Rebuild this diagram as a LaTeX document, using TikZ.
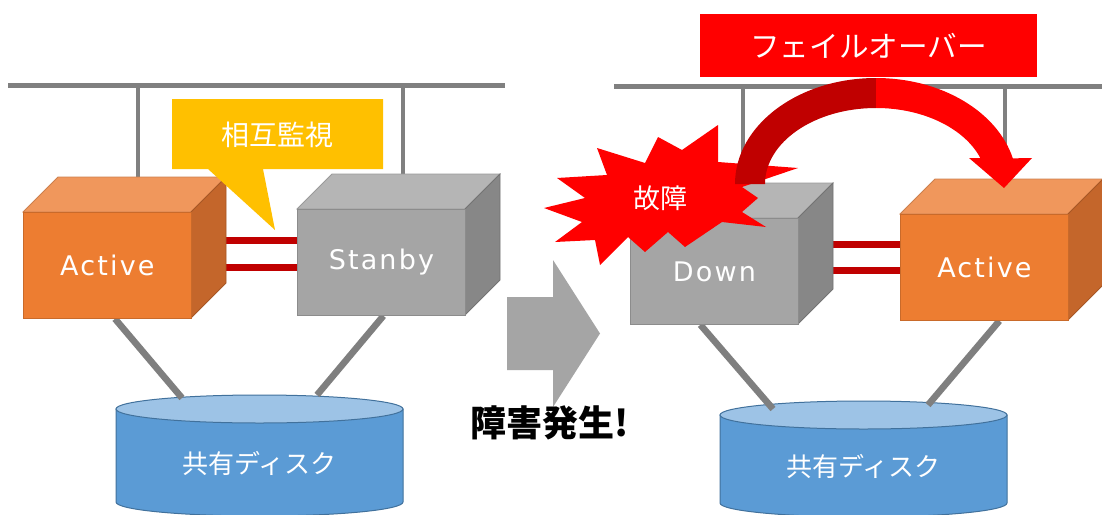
\documentclass[tikz,border=0pt]{standalone}
\usepackage{fontspec}
\usetikzlibrary{calc}
\newfontfamily\jpfont{Noto Sans CJK JP}
\newfontfamily\enfont[LetterSpace=8]{DejaVu Sans}

\definecolor{busgray}{HTML}{808080}
\definecolor{wiregray}{HTML}{7F7F7F}
\definecolor{hbred}{HTML}{C00000}
\definecolor{orfront}{HTML}{ED7D31}
\definecolor{ortop}{HTML}{F0975C}
\definecolor{orside}{HTML}{C4662B}
\definecolor{grfront}{HTML}{A5A5A5}
\definecolor{grtop}{HTML}{B5B5B5}
\definecolor{grside}{HTML}{878787}
\definecolor{diskbody}{HTML}{5B9BD5}
\definecolor{disktop}{HTML}{9DC3E6}
\definecolor{diskedge}{HTML}{41719C}
\definecolor{calloutyellow}{HTML}{FFC000}
\definecolor{alertred}{HTML}{FF0000}
\definecolor{arcdark}{HTML}{C00000}
\definecolor{midgray}{HTML}{A5A5A5}

% server box: front face is a named node, top and side faces are drawn around it
% #1 name, #2 x, #3 y (top-left of front face), #4 front, #5 top, #6 side, #7 label
\newcommand\serverbox[7]{%
  \filldraw[fill=#5, draw=#5!85!black, line width=0.4pt]
    (#2,#3) -- ++(35,-35) -- ++(168,0) -- ++(-35,35) -- cycle;
  \filldraw[fill=#6, draw=#6!85!black, line width=0.4pt]
    ($(#2,#3)+(168,0)$) -- ++(35,-35) -- ++(0,106) -- ++(-35,35) -- cycle;
  \node[boxfront, fill=#4, draw=#4!85!black, anchor=north west] (#1) at (#2,#3) {#7};
}

% shared disk: body and top ellipse, label node in the middle
% #1 name, #2 centre x, #3 top-ellipse centre y, #4 bottom-ellipse centre y
\newcommand\shareddisk[4]{%
  \filldraw[fill=diskbody, draw=diskedge, line width=0.5pt]
    ($(#2,#3)+(-143.5,0)$) -- ($(#2,#4)+(-143.5,0)$)
    arc[start angle=180, end angle=0, x radius=143.5, y radius=14]
    -- ($(#2,#3)+(143.5,0)$) -- cycle;
  \filldraw[fill=disktop, draw=diskedge, line width=0.5pt]
    (#2,#3) ellipse[x radius=143.5, y radius=14];
  \node[disklabel] (#1) at ($(#2,#3)!0.59!(#2,#4)$) {共有ディスク};
}

\begin{document}
\begin{tikzpicture}[x=0.5pt, y=-0.5pt,
  bus/.style={draw=busgray, line width=2.5pt},
  tap/.style={draw=busgray, line width=2pt},
  wire/.style={draw=wiregray, line width=3.3pt},
  heartbeat/.style={draw=hbred, line width=3.5pt},
  boxfront/.style={minimum width=84pt, minimum height=53pt, inner sep=0pt,
    line width=0.4pt, text=white, font=\enfont\fontsize{13.5pt}{16pt}\selectfont},
  disklabel/.style={text=white, inner sep=0pt, font=\jpfont\fontsize{13pt}{15pt}\selectfont},
]
\useasboundingbox (0,0) rectangle (1102,514);
\fill[white] (0,0) rectangle (1102,514);

% ---------------- networks ----------------
\coordinate (busLa) at (8,85);
\coordinate (busLb) at (505,85);
\coordinate (busRa) at (614,86);
\coordinate (busRb) at (1102,86);
\coordinate (tapL1) at (138,85);
\coordinate (tapL2) at (403,85);
\coordinate (tapR1) at (743,86);
\coordinate (tapR2) at (1005,86);
\draw[bus] (busLa) -- (busLb);
\draw[bus] (busRa) -- (busRb);

% ---------------- disks ----------------
\shareddisk{diskL}{259.5}{409}{502}
\shareddisk{diskR}{863.5}{415}{503}
\coordinate (dL1) at (182,398);
\coordinate (dL2) at (317,395);
\coordinate (dR1) at (773,409);
\coordinate (dR2) at (928,405);

% ---------------- boxes (positions fixed first, drawn later) ----------------
\begin{scope}[overlay, opacity=0]
  \node[boxfront, anchor=north west] (actL) at (23,212) {};
  \node[boxfront, anchor=north west] (stb) at (297,209) {};
  \node[boxfront, anchor=north west] (down) at (630,218) {};
  \node[boxfront, anchor=north west] (actR) at (900,214) {};
\end{scope}

% network taps
\draw[tap] (tapL1) -- (tapL1 |- actL.north);
\draw[tap] (tapL2) -- (tapL2 |- stb.north);
\draw[tap] (tapR1) -- (tapR1 |- down.north);
\draw[tap] (tapR2) -- (tapR2 |- actR.north);

% disk connections
\draw[wire] ([xshift=3.8pt]actL.south) -- (dL1);
\draw[wire] ([xshift=1pt]stb.south) -- (dL2);
\draw[wire] ([xshift=-7pt]down.south) -- (dR1);
\draw[wire] ([xshift=7.5pt]actR.south) -- (dR2);

% heartbeat links
\coordinate (hbL1) at ([yshift=12.5pt]actL.east);
\coordinate (hbL2) at ([yshift=-1pt]actL.east);
\draw[heartbeat] (hbL1) -- (hbL1 -| stb.west);
\draw[heartbeat] (hbL2) -- (hbL2 -| stb.west);
\coordinate (hbR1) at ([yshift=13.5pt]down.east);
\coordinate (hbR2) at ([yshift=0.5pt]down.east);
\draw[heartbeat] (hbR1) -- (hbR1 -| actR.west);
\draw[heartbeat] (hbR2) -- (hbR2 -| actR.west);

% servers
\serverbox{actL}{23}{212}{orfront}{ortop}{orside}{Active}
\serverbox{stb}{297}{209}{grfront}{grtop}{grside}{Stanby}
\serverbox{down}{630}{218}{grfront}{grtop}{grside}{Down}
\serverbox{actR}{900}{214}{orfront}{ortop}{orside}{Active}

% ---------------- mutual monitoring callout ----------------
\fill[calloutyellow] (172,99) -- (383,99) -- (383,169) -- (263,169) -- (275,230)
  -- (208,169) -- (172,169) -- cycle;
\node[text=white, font=\jpfont\fontsize{14pt}{16pt}\selectfont] (mon) at (277,135) {相互監視};

% ---------------- transition arrow ----------------
\fill[midgray] (507,297) -- (553,297) -- (553,260) -- (600,333.5) -- (553,407)
  -- (553,370) -- (507,370) -- cycle;
\node[text=black, font=\jpfont\bfseries\fontsize{18pt}{20pt}\selectfont] (fault) at (550,423) {障害発生!};

% ---------------- failure burst ----------------
\fill[alertred] (544,208) -- (585,198) -- (557,178) -- (607,175) -- (597,148)
  -- (645,163) -- (658,137) -- (682,150) -- (718,125) -- (718,162) -- (798,168)
  -- (742,187) -- (758,198) -- (742,212) -- (766,227) -- (722,222) -- (685,247)
  -- (668,232) -- (645,252) -- (628,237) -- (600,265) -- (595,240) -- (555,242)
  -- (582,222) -- cycle;
\node[text=white, font=\jpfont\fontsize{13.5pt}{15pt}\selectfont] (burst) at (660,198) {故障};

% ---------------- failover arrow ----------------
\fill[arcdark] (735,184) arc[start angle=180, end angle=270, x radius=141, y radius=106]
  -- (876,108) arc[start angle=270, end angle=180, x radius=111, y radius=76] -- cycle;
\fill[alertred] (876,78) arc[start angle=270, end angle=346, x radius=141, y radius=106]
  -- (1032,158) -- (1004,188) -- (969,158) -- (980.3,158)
  arc[start angle=340, end angle=270, x radius=111, y radius=76] -- cycle;

\node[fill=alertred, minimum width=168.5pt, minimum height=31.5pt, inner sep=0pt,
  text=white, font=\jpfont\fontsize{14.8pt}{16pt}\selectfont] (fo) at (868.5,45.5) {フェイルオーバー};
\end{tikzpicture}
\end{document}
